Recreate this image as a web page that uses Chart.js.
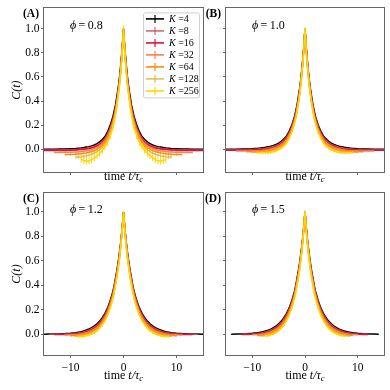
<!DOCTYPE html>
<html>
<head>
<meta charset="utf-8">
<script src="https://cdn.jsdelivr.net/npm/chart.js@4.4.0/dist/chart.umd.min.js"></script>
<style>
  html, body { margin: 0; padding: 0; background: #fff; }
  #wrap { position: relative; width: 390px; height: 390px; }
  #wrap canvas { position: absolute; left: 0; top: 0; }
</style>
</head>
<body>
<div id="wrap">
  <canvas id="panelA" width="390" height="390"></canvas>
  <canvas id="panelB" width="390" height="390"></canvas>
  <canvas id="panelC" width="390" height="390"></canvas>
  <canvas id="panelD" width="390" height="390"></canvas>
</div>
<script>
// lags t/tau_c for the t >= 0 half (C(t) is symmetric, the t < 0 half is mirrored)
const lags = [0, 0.25, 0.5, 0.75, 1, 1.25, 1.5, 1.75, 2, 2.5, 3, 3.5, 4, 4.5, 5, 5.5, 6, 6.5, 7, 7.5, 8, 8.5, 9, 10, 11, 12, 13, 14, 15, 16];

const kLabels = ['4', '8', '16', '32', '64', '128', '256'];
const kColors = ['#000000', 'rgba(196,80,80,0.85)', '#dc143c', '#ff7f50', '#ff8c00', 'rgba(222,172,50,0.8)', '#ffd700'];

const xTicks = [-10, 0, 10];
const yTicks = [0, 0.2, 0.4, 0.6, 0.8, 1.0];

const phiValues = ['0.8', '1.0', '1.2', '1.5'];
const panelTags = ['(A)', '(B)', '(C)', '(D)'];

// C(t) per K (rows K=4 .. K=256), array length = extent of the curve
const corrA = [
    [1.0, .84, .71, .60, .51, .44, .37, .32, .27, .20, .145, .105, .08, .06, .045, .035, .027, .021, .017, .013, .010, .008, .006, .004, .002, .001, 0, 0, 0, 0],
    [1.0, .83, .69, .58, .49, .41, .35, .30, .25, .18, .13, .09, .065, .047, .034, .024, .017, .011, .007, .004, .002, 0, -.002, -.004, -.006, -.007, -.008, -.008, -.008, -.008],
    [1.0, .82, .68, .57, .48, .40, .34, .28, .24, .17, .12, .08, .055, .038, .026, .017, .01, .005, .002, -.001, -.003, -.005, -.007, -.009, -.011, -.012, -.012, -.012, -.012, -.012],
    [1.0, .81, .67, .56, .47, .39, .33, .27, .23, .16, .11, .07, .045, .028, .015, .005, -.003, -.009, -.014, -.017, -.02, -.022, -.023, -.025, -.026, -.027, -.027],
    [1.0, .81, .66, .55, .46, .38, .31, .26, .21, .14, .09, .055, .03, .012, -.002, -.012, -.02, -.026, -.031, -.035, -.038, -.04, -.042, -.044, -.045],
    [1.0, .80, .66, .54, .45, .37, .30, .25, .20, .13, .075, .04, .015, -.005, -.02, -.032, -.042, -.05, -.056, -.06, -.063, -.065, -.066],
    [1.0, .80, .65, .53, .44, .36, .29, .23, .18, .11, .055, .02, -.01, -.035, -.055, -.072, -.087, -.097, -.10, -.095, -.085]
];
const corrB = [
    [1.0, .84, .71, .60, .51, .44, .37, .32, .27, .20, .15, .11, .085, .065, .05, .039, .03, .024, .019, .015, .012, .009, .007, .004, .002, .001, 0, 0, 0, 0],
    [1.0, .83, .70, .59, .50, .42, .36, .30, .26, .19, .14, .10, .075, .055, .04, .03, .022, .016, .012, .008, .005, .003, .001, -.002, -.004, -.005, -.006, -.006, -.006],
    [1.0, .83, .69, .58, .49, .41, .35, .29, .25, .18, .13, .09, .065, .045, .032, .022, .014, .008, .004, 0, -.003, -.005, -.006, -.008, -.009, -.009, -.009, -.009, -.009],
    [1.0, .82, .68, .57, .48, .40, .34, .28, .24, .17, .12, .08, .055, .037, .024, .014, .007, .001, -.004, -.008, -.011, -.013, -.014, -.015, -.015, -.015, -.015],
    [1.0, .82, .68, .56, .47, .39, .33, .27, .23, .16, .11, .07, .045, .027, .014, .004, -.004, -.01, -.014, -.017, -.019, -.02, -.021, -.021, -.021],
    [1.0, .81, .67, .56, .46, .38, .32, .26, .22, .15, .10, .06, .035, .017, .004, -.006, -.013, -.018, -.022, -.024, -.025, -.026, -.026, -.026],
    [1.0, .81, .67, .55, .46, .38, .31, .26, .21, .14, .09, .05, .025, .008, -.005, -.015, -.022, -.027, -.03, -.031, -.031, -.03, -.029]
];
const corrC = [
    [1.0, .87, .76, .67, .59, .52, .46, .40, .35, .275, .215, .17, .135, .107, .085, .068, .054, .043, .034, .027, .021, .017, .013, .008, .005, .003, .002, .001, 0, 0],
    [1.0, .86, .75, .66, .58, .51, .45, .39, .34, .265, .205, .16, .125, .097, .075, .058, .045, .035, .026, .019, .014, .01, .007, .003, .001, 0, -.001, -.001],
    [1.0, .86, .74, .65, .57, .50, .44, .38, .33, .255, .195, .15, .115, .088, .067, .05, .037, .027, .019, .013, .008, .005, .003, 0, -.002, -.003, -.003],
    [1.0, .86, .74, .64, .56, .49, .43, .37, .32, .245, .185, .14, .105, .078, .057, .041, .029, .019, .012, .006, .002, -.001, -.003, -.005, -.006],
    [1.0, .85, .73, .63, .55, .48, .42, .36, .31, .235, .175, .13, .095, .068, .047, .032, .02, .011, .004, -.002, -.006, -.009, -.011, -.012],
    [1.0, .85, .73, .63, .54, .47, .41, .35, .30, .225, .165, .12, .085, .058, .038, .023, .011, .002, -.005, -.01, -.013, -.015, -.016],
    [1.0, .85, .72, .62, .53, .46, .40, .34, .29, .215, .155, .11, .075, .048, .028, .013, .002, -.007, -.013, -.017, -.019, -.02]
];
const corrD = [
    [1.0, .87, .76, .67, .59, .52, .46, .40, .35, .275, .215, .17, .135, .107, .085, .067, .053, .042, .033, .026, .02, .016, .012, .007, .004, .002, .001, 0],
    [1.0, .86, .75, .66, .58, .51, .45, .39, .34, .265, .205, .16, .125, .097, .075, .058, .045, .034, .025, .018, .013, .009, .006, .002, 0, -.001],
    [1.0, .86, .74, .65, .57, .50, .44, .38, .33, .255, .195, .15, .115, .088, .067, .05, .037, .027, .019, .013, .008, .005, .003, 0, -.002, -.003],
    [1.0, .86, .74, .64, .56, .49, .43, .37, .32, .245, .185, .14, .105, .078, .057, .041, .029, .019, .012, .006, .002, -.001, -.003, -.005],
    [1.0, .85, .73, .63, .55, .48, .42, .36, .31, .235, .175, .13, .095, .068, .047, .032, .02, .011, .004, -.002, -.006, -.009, -.011],
    [1.0, .85, .73, .63, .54, .47, .41, .35, .30, .225, .165, .12, .085, .058, .038, .023, .011, .002, -.005, -.01, -.013, -.015],
    [1.0, .85, .72, .62, .53, .46, .40, .34, .29, .215, .155, .11, .075, .048, .028, .013, .002, -.007, -.012, -.015]
];

// error bar half-heights per K
const errA = [0.003, 0.004, 0.005, 0.006, 0.008, 0.014, 0.028];
const errB = [0.002, 0.003, 0.004, 0.005, 0.006, 0.008, 0.012];
const errC = [0.002, 0.003, 0.004, 0.005, 0.006, 0.008, 0.011];
const errD = [0.002, 0.003, 0.003, 0.004, 0.005, 0.007, 0.010];

const SERIF = "'Liberation Serif', 'DejaVu Serif', serif";
const FRAME = '#666';

function mirror(vals) {
    const pts = [];
    for (let i = vals.length - 1; i > 0; i--) pts.push({ x: -lags[i], y: vals[i] });
    for (let i = 0; i < vals.length; i++) pts.push({ x: lags[i], y: vals[i] });
    return pts;
}

function minus(s) {
    return String(s).replace('-', '\u2212');
}

// vertical error bars, drawn right after each line so layering follows the datasets
const errorBars = {
    id: 'errorBars',
    afterDatasetDraw(chart, args) {
        const ds = chart.data.datasets[args.index];
        if (!ds.err) return;
        const { ctx, chartArea: a, scales } = chart;
        ctx.save();
        ctx.beginPath();
        ctx.rect(a.left, a.top, a.width, a.height);
        ctx.clip();
        ctx.strokeStyle = ds.borderColor;
        ctx.lineWidth = 1;
        ctx.beginPath();
        ds.data.forEach(p => {
            const x = scales.x.getPixelForValue(p.x);
            ctx.moveTo(x, scales.y.getPixelForValue(p.y - ds.err));
            ctx.lineTo(x, scales.y.getPixelForValue(p.y + ds.err));
        });
        ctx.stroke();
        ctx.restore();
    }
};

const frame = {
    id: 'frame',
    afterDatasetsDraw(chart) {
        const { ctx, chartArea: a } = chart;
        ctx.save();
        ctx.strokeStyle = FRAME;
        ctx.lineWidth = 1;
        ctx.strokeRect(Math.round(a.left) - 0.5, Math.round(a.top) - 0.5, Math.round(a.width) + 1, Math.round(a.height) + 1);
        ctx.restore();
    }
};

function drawLegend(ctx, a) {
    const x0 = a.left + 99, y0 = a.top + 4, w = 56, h = 85;
    ctx.save();
    ctx.fillStyle = 'rgba(255,255,255,0.85)';
    ctx.strokeStyle = '#d0d0d0';
    ctx.lineWidth = 1;
    ctx.beginPath();
    ctx.roundRect(x0 + 0.5, y0 + 0.5, w, h, 2);
    ctx.fill();
    ctx.stroke();
    kLabels.forEach((k, i) => {
        const y = y0 + 6.5 + i * 12;
        const hx = x0 + 3;
        ctx.strokeStyle = kColors[i];
        ctx.lineWidth = 1.6;
        ctx.beginPath();
        ctx.moveTo(hx, y);
        ctx.lineTo(hx + 18, y);
        ctx.stroke();
        ctx.lineWidth = 1.2;
        ctx.beginPath();
        ctx.moveTo(hx + 9, y - 4);
        ctx.lineTo(hx + 9, y + 4);
        ctx.stroke();
        ctx.fillStyle = '#000';
        ctx.textBaseline = 'middle';
        ctx.textAlign = 'left';
        ctx.font = `italic 10px ${SERIF}`;
        const tx = x0 + 26;
        ctx.fillText('K', tx, y);
        const kw = ctx.measureText('K').width;
        ctx.font = `10px ${SERIF}`;
        ctx.fillText(' =' + k, tx + kw, y);
    });
    ctx.restore();
}

const annotations = {
    id: 'annotations',
    afterDraw(chart, args, opts) {
        const { ctx, chartArea: a } = chart;
        ctx.save();
        ctx.fillStyle = '#000';
        ctx.textBaseline = 'middle';

        // panel tag
        ctx.font = `bold 11.5px ${SERIF}`;
        ctx.textAlign = 'right';
        ctx.fillText(opts.tag, a.left - 5, a.top + 6);

        // phi label
        ctx.textAlign = 'left';
        let px = a.left + 26;
        const py = a.top + 17;
        ctx.font = `italic 12px ${SERIF}`;
        ctx.fillText('\u03d5', px, py);
        px += ctx.measureText('\u03d5').width;
        ctx.font = `12px ${SERIF}`;
        ctx.fillText('\u2009=\u2009' + opts.phi, px, py);

        // x axis title: time t/tau_c
        const parts = [
            { t: 'time ', f: `12px ${SERIF}`, dy: 0 },
            { t: 't/\u03c4', f: `italic 12px ${SERIF}`, dy: 0 },
            { t: 'c', f: `italic 8.5px ${SERIF}`, dy: 3 }
        ];
        let total = 0;
        parts.forEach(p => { ctx.font = p.f; p.w = ctx.measureText(p.t).width; total += p.w; });
        let tx = (a.left + a.right) / 2 - total / 2;
        const ty = a.bottom + opts.xTitleGap;
        parts.forEach(p => {
            ctx.font = p.f;
            ctx.fillText(p.t, tx, ty + p.dy);
            tx += p.w;
        });

        // y axis title
        if (opts.yTitle) {
            ctx.translate(17, (a.top + a.bottom) / 2);
            ctx.rotate(-Math.PI / 2);
            ctx.textAlign = 'center';
            ctx.font = `italic 12px ${SERIF}`;
            ctx.fillText('C(t)', 0, 0);
            ctx.setTransform(1, 0, 0, 1, 0, 0);
        }
        ctx.restore();

        if (opts.legend) drawLegend(ctx, a);
    }
};

function makePanel(id, corr, err, cfg) {
    const datasets = corr.map((vals, i) => ({
        label: 'K=' + kLabels[i],
        data: mirror(vals),
        err: err[i],
        borderColor: kColors[i],
        borderWidth: 1.5,
        pointRadius: 0,
        tension: 0,
        fill: false,
        clip: 0,
        order: kLabels.length - i
    }));

    const tickFont = { family: SERIF, size: 11.5 };
    const Y_W = 30, X_H = 30;

    new Chart(document.getElementById(id), {
        type: 'line',
        data: { datasets },
        options: {
            responsive: false,
            animation: false,
            events: [],
            layout: {
                autoPadding: false,
                padding: {
                    left: cfg.left - Y_W,
                    top: cfg.top,
                    right: 390 - cfg.right,
                    bottom: 390 - cfg.bottom - X_H
                }
            },
            scales: {
                x: {
                    type: 'linear',
                    min: -15,
                    max: 15,
                    afterBuildTicks: s => { s.ticks = xTicks.map(v => ({ value: v })); },
                    afterFit: s => { s.height = X_H; },
                    border: { display: false },
                    grid: { drawOnChartArea: false, drawTicks: true, tickLength: 3, color: FRAME },
                    ticks: {
                        color: '#000',
                        font: tickFont,
                        padding: 3,
                        maxRotation: 0,
                        callback: v => cfg.xLabels ? minus(v) : ''
                    }
                },
                y: {
                    type: 'linear',
                    min: cfg.yMin,
                    max: cfg.yMax,
                    afterBuildTicks: s => { s.ticks = yTicks.map(v => ({ value: v })); },
                    afterFit: s => { s.width = Y_W; },
                    border: { display: false },
                    grid: { drawOnChartArea: false, drawTicks: true, tickLength: 3, color: FRAME },
                    ticks: {
                        color: '#000',
                        font: tickFont,
                        padding: 1.5,
                        callback: v => cfg.yLabels ? minus(v.toFixed(1)) : ''
                    }
                }
            },
            plugins: {
                legend: { display: false },
                tooltip: { enabled: false },
                annotations: {
                    tag: cfg.tag,
                    phi: cfg.phi,
                    legend: cfg.legend,
                    yTitle: cfg.yLabels,
                    xTitleGap: cfg.xLabels ? 21 : 5
                }
            }
        },
        plugins: [errorBars, frame, annotations]
    });
}

makePanel('panelA', corrA, errA, { left: 44, right: 203, top: 6, bottom: 172, yMin: -0.19, yMax: 1.17, xLabels: false, yLabels: true, legend: true, tag: panelTags[0], phi: phiValues[0] });
makePanel('panelB', corrB, errB, { left: 226, right: 384, top: 6, bottom: 172, yMin: -0.19, yMax: 1.17, xLabels: false, yLabels: false, legend: false, tag: panelTags[1], phi: phiValues[1] });
makePanel('panelC', corrC, errC, { left: 44, right: 203, top: 193, bottom: 355, yMin: -0.17, yMax: 1.155, xLabels: true, yLabels: true, legend: false, tag: panelTags[2], phi: phiValues[2] });
makePanel('panelD', corrD, errD, { left: 226, right: 384, top: 193, bottom: 355, yMin: -0.17, yMax: 1.155, xLabels: true, yLabels: false, legend: false, tag: panelTags[3], phi: phiValues[3] });
</script>
</body>
</html>
